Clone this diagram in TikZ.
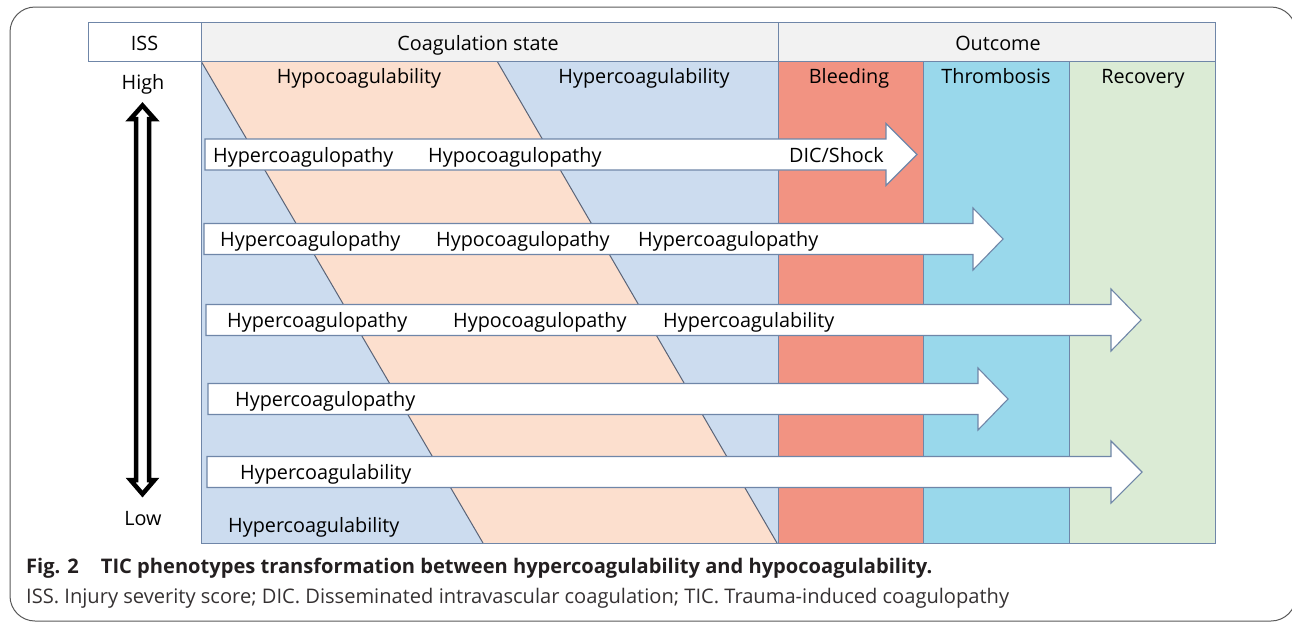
\documentclass[tikz,border=0pt]{standalone}
\usepackage{fontspec}
\setmainfont{Open Sans}
\definecolor{edge}{HTML}{6F86A8}
\definecolor{hdr}{HTML}{F2F2F2}
\definecolor{coagblue}{HTML}{CCDCEF}
\definecolor{peach}{HTML}{FCDFCE}
\definecolor{bleed}{HTML}{F29382}
\definecolor{thromb}{HTML}{99D8EB}
\definecolor{recov}{HTML}{DBEBD5}
\definecolor{diagline}{HTML}{5A6478}
\definecolor{captxt}{HTML}{231F20}
\newcommand\blockarrow[4]{%
  \draw[blockarr] (#1,#3-15.5) -- (#4,#3-15.5) -- (#4,#3-31) -- (#2,#3) -- (#4,#3+31) -- (#4,#3+15.5) -- (#1,#3+15.5) -- cycle;}
\begin{document}
\begin{tikzpicture}[x=1pt,y=-1pt,
  blockarr/.style={draw=edge, fill=white, line width=1.1pt, line join=miter},
  gridline/.style={draw=edge, line width=1pt},
  txt/.style={font=\fontsize{19.8}{22}\selectfont, inner sep=0pt, anchor=base west, text=black},
  ctxt/.style={font=\fontsize{19.8}{22}\selectfont, inner sep=0pt, anchor=base, text=black},
  capbold/.style={font=\fontsize{20.1}{24}\selectfont\bfseries, inner sep=0pt, anchor=base west, text=captxt},
  capreg/.style={font=\fontsize{20.1}{23}\selectfont, inner sep=0pt, anchor=base west, text=captxt!92!white}]
\useasboundingbox (0,0) rectangle (1292,622);
% outer frame
\draw[line width=1pt, draw=black!65, rounded corners=25pt] (10,7) rectangle (1296,621);
% coagulation area
\fill[coagblue] (201,61) rectangle (778,543);
\fill[peach] (201,61) -- (497,61) -- (777,543) -- (483,543) -- cycle;
\draw[diagline, line width=1pt] (201,61) -- (483,543);
\draw[diagline, line width=1pt] (497,61) -- (777,543);
% outcome columns
\fill[bleed] (778,61) rectangle (923,543);
\fill[thromb] (923,61) rectangle (1069,543);
\fill[recov] (1069,61) rectangle (1215,543);
\draw[gridline] (201,61) -- (201,543) -- (1215,543) -- (1215,61);
\draw[gridline] (778,61) -- (778,543);
\draw[gridline] (923,61) -- (923,543);
\draw[gridline] (1069,61) -- (1069,543);
% header
\draw[gridline, fill=white] (88,22) rectangle (201,61);
\draw[gridline, fill=hdr] (201,22) rectangle (778,61);
\draw[gridline, fill=hdr] (778,22) rectangle (1215,61);
\node[ctxt] (iss) at (144.5,50) {ISS};
\node[ctxt] (coag) at (478,50) {Coagulation state};
\node[ctxt] (outc) at (998,50) {Outcome};
% column labels
\node[ctxt] (hypo) at (359,83) {Hypocoagulability};
\node[ctxt] (hyper) at (644,83) {Hypercoagulability};
\node[ctxt] (bl) at (849,83) {Bleeding};
\node[ctxt] (th) at (996,83) {Thrombosis};
\node[ctxt] (rc) at (1143,83) {Recovery};
% ISS scale
\node[ctxt] (high) at (143,89) {High};
\node[ctxt] (low) at (143,525) {Low};
\draw[line width=4.5pt, fill=white, line join=miter, miter limit=10]
  (142.5,105.5) -- (154.5,119) -- (149,119) -- (149,480) -- (154.5,480) -- (142.5,494)
  -- (130.5,480) -- (136,480) -- (136,119) -- (130.5,119) -- cycle;
% arrows
\blockarrow{205}{917}{154.5}{886}
\blockarrow{204}{1003}{239}{973}
\blockarrow{206}{1141}{320}{1111}
\blockarrow{208}{1008}{399}{978}
\blockarrow{207}{1142}{472}{1111}
% arrow texts
\node[txt] (a1a) at (213,162) {Hypercoagulopathy};
\node[txt] (a1b) at (428,162) {Hypocoagulopathy};
\node[txt] (a1c) at (789,162) {DIC/Shock};
\node[txt] (a2a) at (220,246.5) {Hypercoagulopathy};
\node[txt] (a2b) at (436,246.5) {Hypocoagulopathy};
\node[txt] (a2c) at (638,246.5) {Hypercoagulopathy};
\node[txt] (a3a) at (227,327.5) {Hypercoagulopathy};
\node[txt] (a3b) at (453,327.5) {Hypocoagulopathy};
\node[txt] (a3c) at (663,327.5) {Hypercoagulability};
\node[txt] (a4a) at (235,406.5) {Hypercoagulopathy};
\node[txt] (a5a) at (240,479.5) {Hypercoagulability};
\node[txt] (bot) at (228,532) {Hypercoagulability};
% caption
\node[capbold] (cap1) at (26,573) {Fig. 2\hspace{22pt}TIC phenotypes transformation between hypercoagulability and hypocoagulability.};
\node[capreg] (cap2) at (26,603) {ISS. Injury severity score; DIC. Disseminated intravascular coagulation; TIC. Trauma-induced coagulopathy};
\end{tikzpicture}
\end{document}
